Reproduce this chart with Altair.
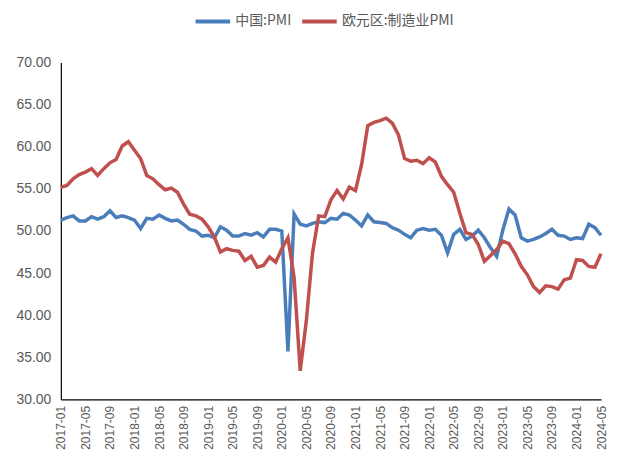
import altair as alt
import pandas as pd

months = [f"{y}-{m:02d}" for y in range(2017, 2025) for m in range(1, 13)][:89]

china_pmi = [
    51.3, 51.6, 51.8, 51.2, 51.2, 51.7, 51.4, 51.7, 52.4, 51.6, 51.8, 51.6,
    51.3, 50.3, 51.5, 51.4, 51.9, 51.5, 51.2, 51.3, 50.8, 50.2, 50.0, 49.4,
    49.5, 49.2, 50.5, 50.1, 49.4, 49.4, 49.7, 49.5, 49.8, 49.3, 50.2, 50.2,
    50.0, 35.7, 52.0, 50.8, 50.6, 50.9, 51.1, 51.0, 51.5, 51.4, 52.1, 51.9,
    51.3, 50.6, 51.9, 51.1, 51.0, 50.9, 50.4, 50.1, 49.6, 49.2, 50.1, 50.3,
    50.1, 50.2, 49.5, 47.4, 49.6, 50.2, 49.0, 49.4, 50.1, 49.2, 48.0, 47.0,
    50.1, 52.6, 51.9, 49.2, 48.8, 49.0, 49.3, 49.7, 50.2, 49.5, 49.4, 49.0,
    49.2, 49.1, 50.8, 50.4, 49.5,
]

euro_pmi = [
    55.2, 55.4, 56.2, 56.7, 57.0, 57.4, 56.6, 57.4, 58.1, 58.5, 60.1, 60.6,
    59.6, 58.6, 56.6, 56.2, 55.5, 54.9, 55.1, 54.6, 53.2, 52.0, 51.8, 51.4,
    50.5, 49.3, 47.5, 47.9, 47.7, 47.6, 46.5, 47.0, 45.7, 45.9, 46.9, 46.3,
    47.9, 49.2, 44.5, 33.4, 39.4, 47.4, 51.8, 51.7, 53.7, 54.8, 53.8, 55.2,
    54.8, 57.9, 62.5, 62.9, 63.1, 63.4, 62.8, 61.4, 58.6, 58.3, 58.4, 58.0,
    58.7, 58.2, 56.5, 55.5, 54.6, 52.1, 49.8, 49.6, 48.4, 46.4, 47.1, 47.8,
    48.8, 48.5, 47.3, 45.8, 44.8, 43.4, 42.7, 43.5, 43.4, 43.1, 44.2, 44.4,
    46.6, 46.5, 45.8, 45.7, 47.3,
]

series_names = ["中国:PMI", "欧元区:制造业PMI"]
series_colors = ["#4A7EBB", "#C0504D"]
tick_labels = months[::4]

df = pd.concat([
    pd.DataFrame({"month": months, "value": china_pmi, "series": series_names[0], "order": 0}),
    pd.DataFrame({"month": months, "value": euro_pmi, "series": series_names[1], "order": 1}),
])

axis_font = "Liberation Sans"

chart = alt.Chart(df).mark_line(strokeWidth=3.5).encode(
    x=alt.X("month:O", sort=months,
            scale=alt.Scale(type="point", padding=0),
            axis=alt.Axis(title=None, values=tick_labels, labelAngle=-90,
                          labelFontSize=12, labelColor="#595959", labelFont=axis_font,
                          ticks=False, domainColor="#000000", domainWidth=1.2,
                          labelPadding=6, grid=False, labelOverlap=False)),
    y=alt.Y("value:Q", scale=alt.Scale(domain=[30, 70], nice=False, zero=False),
            axis=alt.Axis(title=None, values=list(range(30, 71, 5)), format=".2f",
                          labelFontSize=14, labelColor="#595959", labelFont=axis_font,
                          ticks=False, domainColor="#000000", domainWidth=1.2,
                          labelPadding=10, grid=False)),
    color=alt.Color("series:N", sort=series_names,
                    scale=alt.Scale(domain=series_names, range=series_colors),
                    legend=alt.Legend(title=None, orient="none", direction="horizontal",
                                      legendX=133, legendY=-61,
                                      symbolType="stroke", symbolStrokeWidth=4,
                                      symbolSize=1200, labelFontSize=14,
                                      labelColor="#595959", labelFont="Noto Sans CJK SC",
                                      columnPadding=2, labelOffset=3)),
    order="order:Q",
).properties(
    width=542, height=338,
    autosize=alt.AutoSizeParams(type="none"),
    padding={"left": 53, "top": 54, "right": 8, "bottom": 62},
).configure_view(stroke=None)

chart.save("out.html", embed_options={"renderer": "svg", "actions": False})
